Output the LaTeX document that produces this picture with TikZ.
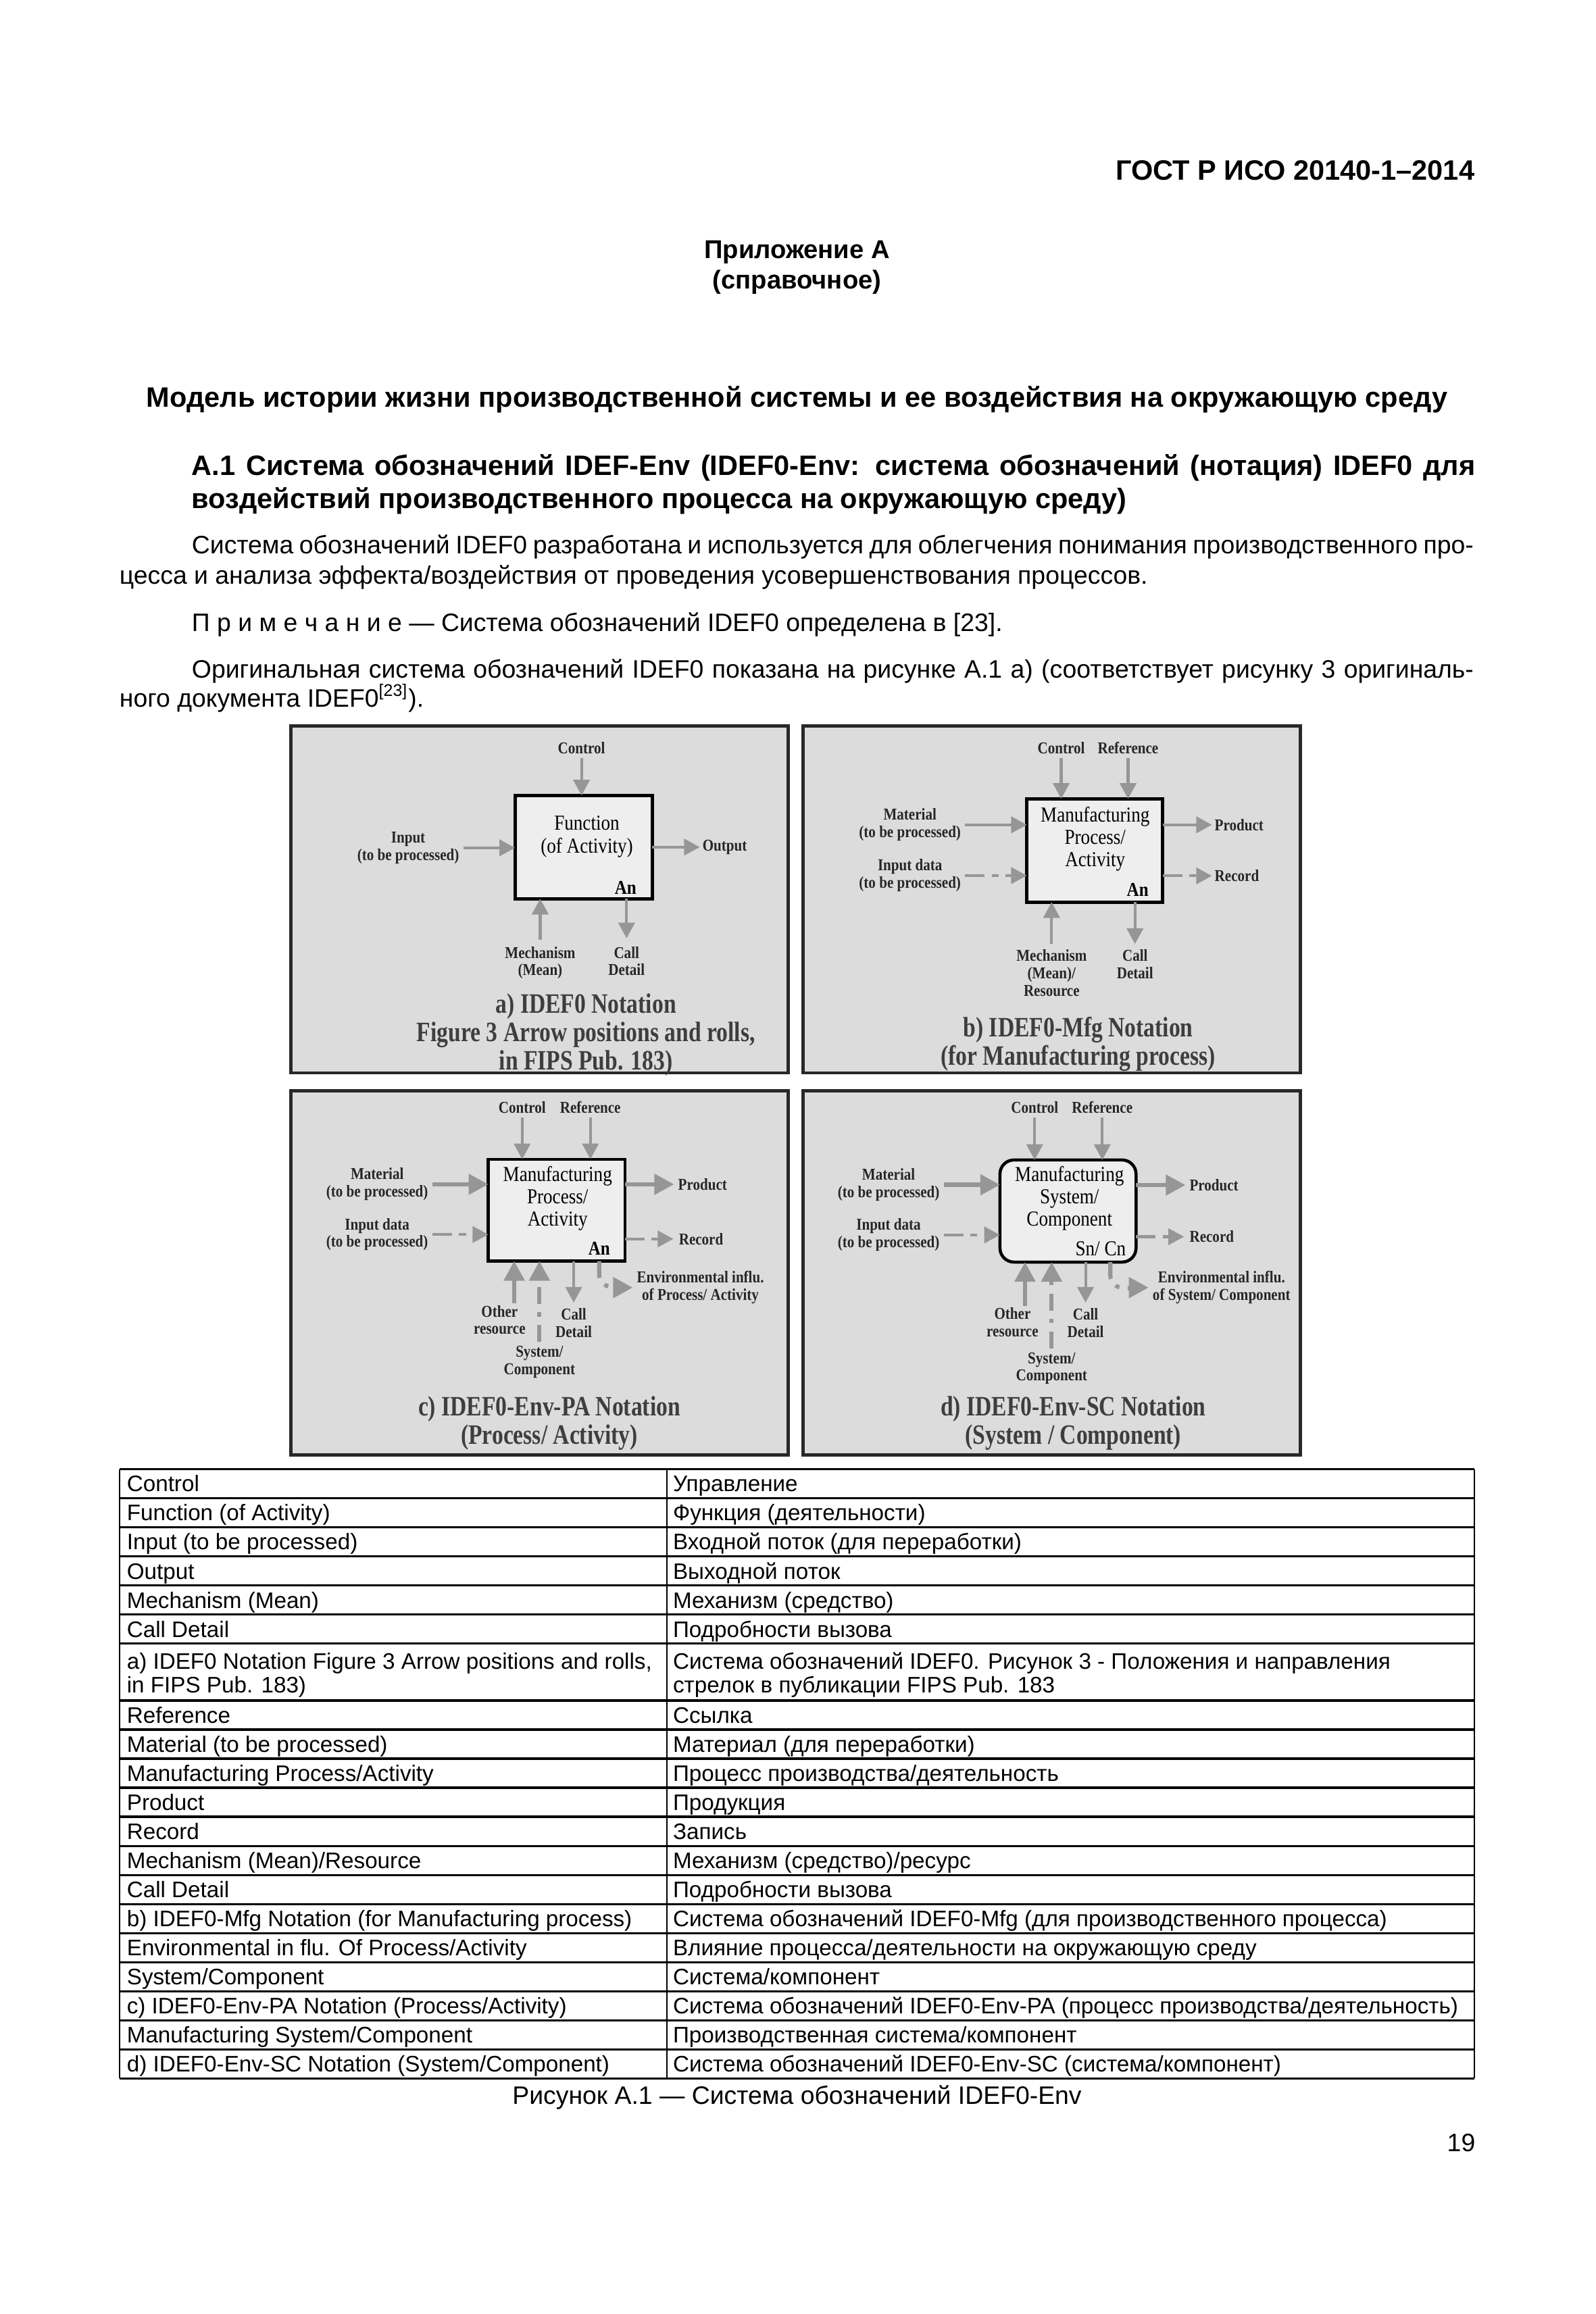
\documentclass[tikz,border=0pt]{standalone}
\usepackage{fontspec}
\setmainfont{Liberation Sans}
\newfontfamily\figfont[FakeStretch=0.86]{Liberation Serif}
\newfontfamily\figtitlefont[FakeStretch=0.81]{Liberation Serif}
\usepackage{tikz}
\usetikzlibrary{arrows.meta,positioning,calc}

\definecolor{panelgray}{RGB}{220,220,220}
\definecolor{boxgray}{RGB}{238,238,238}
\definecolor{arrowgray}{RGB}{150,150,150}
\definecolor{framegray}{RGB}{40,40,40}
\definecolor{titlegray}{RGB}{62,62,62}
\newcommand{\pxu}{0.018501cm}

\begin{document}
\begin{tikzpicture}[
    x=\pxu, y=-\pxu,
    every node/.style={inner sep=0pt, outer sep=0pt},
    hdr/.style={font=\fontsize{10}{12}\selectfont\bfseries},
    apphdr/.style={font=\fontsize{9.2}{11}\selectfont\bfseries},
    body/.style={font=\fontsize{9}{10.8}\selectfont, anchor=base west},
    cell/.style={font=\fontsize{8}{8.5}\selectfont, anchor=base west},
    panel/.style={draw=framegray, line width=1.2pt, fill=panelgray},
    fbox/.style={draw=black, line width=1.1pt, fill=boxgray},
    lbl/.style={font=\figfont\bfseries\fontsize{5.9}{6.2}\selectfont, align=center, text=black!85},
    boxtext/.style={font=\figfont\fontsize{7.6}{8}\selectfont, align=center},
    code/.style={font=\figfont\bfseries\fontsize{7}{8}\selectfont},
    ttl/.style={font=\figtitlefont\bfseries\fontsize{10}{9}\selectfont, align=center, text=titlegray},
    flow/.style={draw=arrowgray, line width=1pt, -{Triangle[length=5.6pt,width=5.8pt]}},
    bigflow/.style={draw=arrowgray, line width=1.5pt, -{Triangle[length=7pt,width=7.2pt]}},
    dataflow/.style={flow, dash pattern=on 7pt off 2.5pt on 2.5pt off 2.5pt},
    bigdata/.style={bigflow, dash pattern=on 6pt off 3pt on 1.5pt off 3pt},
    hrule/.style={line width=0.8pt},
    vrule/.style={line width=0.45pt}
]
\fill[white] (0,0) rectangle (1081,1568);
\useasboundingbox (0,0) rectangle (1081,1568);

% page text
\node[hdr, anchor=base east] (gost) at (999,122) {ГОСТ Р ИСО 20140-1–2014};
\node[apphdr, anchor=base] (app) at (540,175) {Приложение А};
\node[apphdr, anchor=base] (appkind) at (540,195.5) {(справочное)};
\node[hdr, anchor=base] (title) at (540,276) {Модель истории жизни производственной системы и ее воздействия на окружающую среду};
\node[hdr, anchor=base west] (sec1) at (130,322) {\makebox[16.08cm][s]{А.1 Система обозначений IDEF-Env (IDEF0-Env: система обозначений (нотация) IDEF0 для}};
\node[hdr, anchor=base west] (sec2) at (130,344.3) {воздействий производственного процесса на окружающую среду)};
\node[body] (par1a) at (130,375.3) {\makebox[16.06cm][s]{Система обозначений IDEF0 разработана и используется для облегчения понимания производственного про-}};
\node[body] (par1b) at (81,395.9) {цесса и анализа эффекта/воздействия от проведения усовершенствования процессов.};
\node[body] (note) at (130,427.9) {П р и м е ч а н и е — Система обозначений IDEF0 определена в [23].};
\node[body] (par2a) at (130,459.2) {\makebox[16.06cm][s]{Оригинальная система обозначений IDEF0 показана на рисунке А.1 а) (соответствует рисунку 3 оригиналь-}};
\node[body] (par2b) at (81,479) {ного документа IDEF0\textsuperscript{[23]}).};

% panels
\node[panel, minimum width=337*\pxu, minimum height=235*\pxu] (panA) at (365.5,609.5) {};
\node[panel, minimum width=337*\pxu, minimum height=235*\pxu] (panB) at (712.5,609.5) {};
\node[panel, minimum width=337*\pxu, minimum height=247*\pxu] (panC) at (365.5,862.5) {};
\node[panel, minimum width=337*\pxu, minimum height=247*\pxu] (panD) at (712.5,862.5) {};

% a) IDEF0
\node[fbox, minimum width=93*\pxu, minimum height=70*\pxu] (boxA) at (395.5,574) {};
\node[boxtext] (funA) at (397.6,567) {Function\\(of Activity)};
\node[code] (anA) at (423.8,601.5) {An};
\node[lbl, anchor=south] (ctlA) at (394,511) {Control};
\node[lbl, anchor=east] (inA) at (311,574.5) {Input\\(to be processed)};
\node[lbl, anchor=west] (outA) at (476,574) {Output};
\node[lbl, anchor=north] (mechA) at (366,641.5) {Mechanism\\(Mean)};
\node[lbl, anchor=north] (callA) at (424.5,641.5) {Call\\Detail};
\node[ttl] (ttlA) at (397,701) {a) IDEF0 Notation\\Figure 3 Arrow positions and rolls,\\in FIPS Pub. 183)};
\draw[flow, shorten <=1.5pt] (ctlA.south) -- (ctlA.south |- boxA.north);
\draw[flow, shorten <=1.5pt] (inA.east) -- (inA.east -| boxA.west);
\draw[flow, shorten >=1pt] (boxA.east |- outA.west) -- (outA.west);
\draw[flow, shorten <=2.5pt] (mechA.north) -- (mechA.north |- boxA.south);
\draw[flow, shorten >=3pt] (callA.north |- boxA.south) -- (callA.north);

% b) IDEF0-Mfg
\node[fbox, minimum width=92*\pxu, minimum height=70*\pxu] (boxB) at (741.7,576.3) {};
\node[boxtext] (mfgB) at (742,568.6) {Manufacturing\\Process/\\Activity};
\node[code] (anB) at (770.8,603) {An};
\node[lbl, anchor=south] (ctlB) at (719,511) {Control};
\node[lbl, anchor=south] (refB) at (764.3,511) {Reference};
\node[lbl, anchor=east] (matB) at (651,558.9) {Material\\(to be processed)};
\node[lbl, anchor=east] (datB) at (651,593.3) {Input data\\(to be processed)};
\node[lbl, anchor=west] (prodB) at (823,558.9) {Product};
\node[lbl, anchor=west] (recB) at (823,593.5) {Record};
\node[lbl, anchor=north] (mechB) at (712.5,643.5) {Mechanism\\(Mean)/\\Resource};
\node[lbl, anchor=north] (callB) at (769,643.5) {Call\\Detail};
\node[ttl] (ttlB) at (730.5,707.5) {b) IDEF0-Mfg Notation\\(for Manufacturing process)};
\draw[flow, shorten <=1.5pt] (ctlB.south) -- (ctlB.south |- boxB.north);
\draw[flow, shorten <=1.5pt] (refB.south) -- (refB.south |- boxB.north);
\draw[flow, shorten <=1.5pt] (matB.east) -- (matB.east -| boxB.west);
\draw[dataflow, shorten <=1.5pt] (datB.east) -- (datB.east -| boxB.west);
\draw[flow, shorten >=1pt] (boxB.east |- prodB.west) -- (prodB.west);
\draw[dataflow, shorten >=1pt] (boxB.east |- recB.west) -- (recB.west);
\draw[flow, shorten <=2pt] (mechB.north) -- (mechB.north |- boxB.south);
\draw[flow, shorten >=2pt] (callB.north |- boxB.south) -- (callB.north);

% c) IDEF0-Env-PA
\node[fbox, minimum width=92.6*\pxu, minimum height=69*\pxu] (boxC) at (377.1,820) {};
\node[boxtext] (mfgC) at (377.8,812) {Manufacturing\\Process/\\Activity};
\node[code] (anC) at (406,846) {An};
\node[lbl, anchor=south] (ctlC) at (353.8,754.5) {Control};
\node[lbl, anchor=south] (refC) at (400,754.5) {Reference};
\node[lbl, anchor=east] (matC) at (290,802.5) {Material\\(to be processed)};
\node[lbl, anchor=east] (datC) at (290,836.5) {Input data\\(to be processed)};
\node[lbl, anchor=west] (prodC) at (459.5,802.5) {Product};
\node[lbl, anchor=west] (recC) at (460,839.5) {Record};
\coordinate (othCx) at (348.4,883);
\node[lbl, anchor=north] (othC) at (338.5,884.5) {Other\\resource};
\node[lbl, anchor=north] (sysC) at (365.5,912) {System/\\Component};
\node[lbl, anchor=north] (callC) at (388.7,886.5) {Call\\Detail};
\node[lbl, anchor=west] (envC) at (431.5,872.5) {Environmental influ.\\of Process/ Activity};
\node[ttl] (ttlC) at (372.2,964.5) {c) IDEF0-Env-PA Notation\\(Process/ Activity)};
\draw[flow, shorten <=1.5pt] (ctlC.south) -- (ctlC.south |- boxC.north);
\draw[flow, shorten <=1.5pt] (refC.south) -- (refC.south |- boxC.north);
\draw[bigflow, shorten <=1.5pt] (matC.east) -- (matC.east -| boxC.west);
\draw[dataflow, shorten <=1.5pt] (datC.east) -- (datC.east -| boxC.west);
\draw[bigflow, shorten >=1.5pt] (boxC.east |- prodC.west) -- (prodC.west);
\draw[dataflow, shorten >=2pt] (boxC.east |- recC.west) -- (recC.west);
\draw[bigflow] (othCx) -- (othCx |- boxC.south);
\draw[bigdata, shorten <=1.5pt] (sysC.north) -- (sysC.north |- boxC.south);
\draw[flow, shorten >=2pt] (callC.north |- boxC.south) -- (callC.north);
\draw[bigdata, shorten >=1.5pt] (anC |- boxC.south) -- ++(0,9) to[out=-90,in=180] (envC.west);

% d) IDEF0-Env-SC
\node[fbox, rounded corners=5pt, minimum width=92.2*\pxu, minimum height=69.2*\pxu] (boxD) at (723.6,820.6) {};
\node[boxtext] (mfgD) at (724.6,812) {Manufacturing\\System/\\Component};
\node[boxtext] (snD) at (745.7,846.3) {Sn/ Cn};
\node[lbl, anchor=south] (ctlD) at (701,754.5) {Control};
\node[lbl, anchor=south] (refD) at (746.8,754.5) {Reference};
\node[lbl, anchor=east] (matD) at (636.5,802.8) {Material\\(to be processed)};
\node[lbl, anchor=east] (datD) at (636.5,836.8) {Input data\\(to be processed)};
\node[lbl, anchor=west] (prodD) at (806,803) {Product};
\node[lbl, anchor=west] (recD) at (806,838) {Record};
\coordinate (othDx) at (694.5,885);
\coordinate (envDx) at (752.3,855);
\node[lbl, anchor=north] (othD) at (686,886) {Other\\resource};
\node[lbl, anchor=north] (sysD) at (712.5,916.5) {System/\\Component};
\node[lbl, anchor=north] (callD) at (735.5,886.5) {Call\\Detail};
\node[lbl, anchor=west] (envD) at (781,872.5) {Environmental influ.\\of System/ Component};
\node[ttl] (ttlD) at (727.2,964.5) {d) IDEF0-Env-SC Notation\\(System / Component)};
\draw[flow, shorten <=1.5pt] (ctlD.south) -- (ctlD.south |- boxD.north);
\draw[flow, shorten <=1.5pt] (refD.south) -- (refD.south |- boxD.north);
\draw[bigflow, shorten <=1.5pt] (matD.east) -- (matD.east -| boxD.west);
\draw[dataflow, shorten <=1.5pt] (datD.east) -- (datD.east -| boxD.west);
\draw[bigflow, shorten >=1.5pt] (boxD.east |- prodD.west) -- (prodD.west);
\draw[dataflow, shorten >=2pt] (boxD.east |- recD.west) -- (recD.west);
\draw[bigflow] (othDx) -- (othDx |- boxD.south);
\draw[bigdata, shorten <=1.5pt] (sysD.north) -- (sysD.north |- boxD.south);
\draw[flow, shorten >=2pt] (callD.north |- boxD.south) -- (callD.north);
\draw[bigdata, shorten >=1.5pt] (envDx |- boxD.south) -- ++(0,9) to[out=-90,in=180] (envD.west);

% table
\foreach \yy in {995.5,1015.2,1034.9,1054.6,1074.3,1094,1113.7,1152.3,1172,1191.7,1211.4,1231.1,1250.8,1270.5,1290.2,1309.9,1329.6,1349.3,1369,1388.7,1408.4}
    \draw[hrule] (81,\yy) -- (999,\yy);
\draw[vrule] (81,995.5) -- (81,1408.4) (452,995.5) -- (452,1408.4) (999,995.5) -- (999,1408.4);
\node[cell] (l1) at (86,1010.8) {Control};
\node[cell] (r1) at (456,1010.8) {Управление};
\node[cell] (l2) at (86,1030.5) {Function (of Activity)};
\node[cell] (r2) at (456,1030.5) {Функция (деятельности)};
\node[cell] (l3) at (86,1050.2) {Input (to be processed)};
\node[cell] (r3) at (456,1050.2) {Входной поток (для переработки)};
\node[cell] (l4) at (86,1069.9) {Output};
\node[cell] (r4) at (456,1069.9) {Выходной поток};
\node[cell] (l5) at (86,1089.6) {Mechanism (Mean)};
\node[cell] (r5) at (456,1089.6) {Механизм (средство)};
\node[cell] (l6) at (86,1109.3) {Call Detail};
\node[cell] (r6) at (456,1109.3) {Подробности вызова};
\node[cell] (l7a) at (86,1131.2) {a) IDEF0 Notation Figure 3 Arrow positions and rolls,};
\node[cell] (l7b) at (86,1147.2) {in FIPS Pub. 183)};
\node[cell] (r7a) at (456,1131.2) {Система обозначений IDEF0. Рисунок 3 - Положения и направления};
\node[cell] (r7b) at (456,1147.2) {стрелок в публикации FIPS Pub. 183};
\node[cell] (l8) at (86,1167.6) {Reference};
\node[cell] (r8) at (456,1167.6) {Ссылка};
\node[cell] (l9) at (86,1187.3) {Material (to be processed)};
\node[cell] (r9) at (456,1187.3) {Материал (для переработки)};
\node[cell] (l10) at (86,1207) {Manufacturing Process/Activity};
\node[cell] (r10) at (456,1207) {Процесс производства/деятельность};
\node[cell] (l11) at (86,1226.7) {Product};
\node[cell] (r11) at (456,1226.7) {Продукция};
\node[cell] (l12) at (86,1246.4) {Record};
\node[cell] (r12) at (456,1246.4) {Запись};
\node[cell] (l13) at (86,1266.1) {Mechanism (Mean)/Resource};
\node[cell] (r13) at (456,1266.1) {Механизм (средство)/ресурс};
\node[cell] (l14) at (86,1285.8) {Call Detail};
\node[cell] (r14) at (456,1285.8) {Подробности вызова};
\node[cell] (l15) at (86,1305.5) {b) IDEF0-Mfg Notation (for Manufacturing process)};
\node[cell] (r15) at (456,1305.5) {Система обозначений IDEF0-Mfg (для производственного процесса)};
\node[cell] (l16) at (86,1325.2) {Environmental in flu. Of Process/Activity};
\node[cell] (r16) at (456,1325.2) {Влияние процесса/деятельности на окружающую среду};
\node[cell] (l17) at (86,1344.9) {System/Component};
\node[cell] (r17) at (456,1344.9) {Система/компонент};
\node[cell] (l18) at (86,1364.6) {c) IDEF0-Env-PA Notation (Process/Activity)};
\node[cell] (r18) at (456,1364.6) {Система обозначений IDEF0-Env-PA (процесс производства/деятельность)};
\node[cell] (l19) at (86,1384.3) {Manufacturing System/Component};
\node[cell] (r19) at (456,1384.3) {Производственная система/компонент};
\node[cell] (l20) at (86,1404) {d) IDEF0-Env-SC Notation (System/Component)};
\node[cell] (r20) at (456,1404) {Система обозначений IDEF0-Env-SC (система/компонент)};

\node[body, anchor=base] (caption) at (540,1426) {Рисунок А.1 — Система обозначений IDEF0-Env};
\node[body, anchor=base] (pageno) at (990,1458) {19};
\end{tikzpicture}
\end{document}
